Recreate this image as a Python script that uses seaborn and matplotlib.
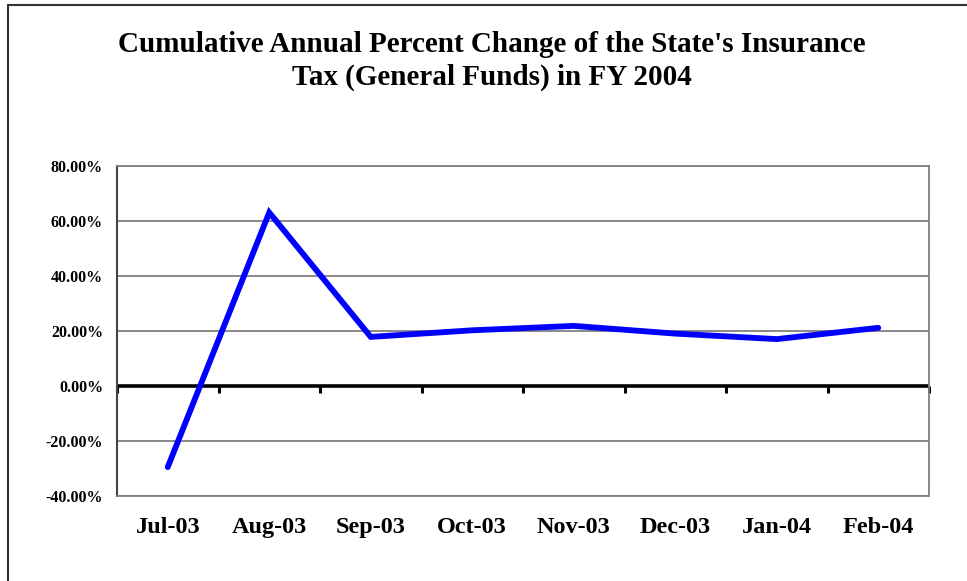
import matplotlib
matplotlib.use("Agg")
import matplotlib.pyplot as plt
import matplotlib.patches as mpatches
import seaborn as sns
import pandas as pd

months = ["Jul-03", "Aug-03", "Sep-03", "Oct-03", "Nov-03", "Dec-03", "Jan-04", "Feb-04"]
pct_change = [-29.5, 63.0, 17.8, 20.2, 21.8, 19.0, 17.0, 21.1]
y_ticks = [-40, -20, 0, 20, 40, 60, 80]
title = "Cumulative Annual Percent Change of the State's Insurance\nTax (General Funds) in FY 2004"

df = pd.DataFrame({"month": months, "pct": pct_change})

sns.set_theme(style="white")
plt.rcParams["font.family"] = ["Liberation Serif", "DejaVu Serif"]
plt.rcParams["text.color"] = "black"
plt.rcParams["xtick.color"] = "black"
plt.rcParams["ytick.color"] = "black"

fig = plt.figure(figsize=(9.67, 5.81), dpi=100)
ax = fig.add_axes([117 / 967, 1 - 496 / 581, (929 - 117) / 967, (496 - 165.7) / 581])

ax.axhline(0, color="black", linewidth=2.6, zorder=2.2)
sns.lineplot(data=df, x="month", y="pct", sort=False, ax=ax, color="#0000FF",
             linewidth=4.2, solid_capstyle="round", solid_joinstyle="miter", zorder=3)

ax.set_xlim(-0.5, len(months) - 0.5)
ax.set_ylim(-40, 80)
ax.set_yticks(y_ticks)
ax.set_yticklabels([f"{v:.2f}%" for v in y_ticks], fontsize=11.5, fontweight="bold")
ax.set_xticks(range(len(months)))
ax.set_xticklabels(months, fontsize=17.5, fontweight="bold")
ax.tick_params(axis="x", length=0, pad=15, labelcolor="black")
ax.tick_params(axis="y", length=4, width=1.2, color="#555555", direction="out", pad=6,
               labelcolor="black")
ax.set_xlabel("")
ax.set_ylabel("")
ax.yaxis.grid(True, color="#808080", linewidth=1.3)
ax.set_axisbelow(True)
for side, sp in ax.spines.items():
    sp.set_visible(True)
    sp.set_color("#808080")
    sp.set_linewidth(1.3)
ax.spines["left"].set_color("#444444")
ax.spines["left"].set_linewidth(1.5)

# zero axis tick marks at category boundaries
zero_frac = (0 - (-40)) / (80 - (-40))
sec = ax.secondary_xaxis(zero_frac)
sec.set_xticks([i - 0.5 for i in range(len(months) + 1)])
sec.set_xticklabels([])
sec.spines["bottom"].set_visible(False)
sec.tick_params(axis="x", direction="out", length=5, width=2.2, color="black")

fig.text(492 / 967, 1 - 61 / 581, title, ha="center", va="center",
         fontsize=21, fontweight="bold", linespacing=1.3, color="black")

border = mpatches.Rectangle((8 / 967, -0.2), 1.3, 0.2 + (1 - 5 / 581),
                            transform=fig.transFigure, fill=False,
                            edgecolor="#333333", linewidth=1.5)
fig.patches.append(border)

fig.savefig("out.png", dpi=100)
